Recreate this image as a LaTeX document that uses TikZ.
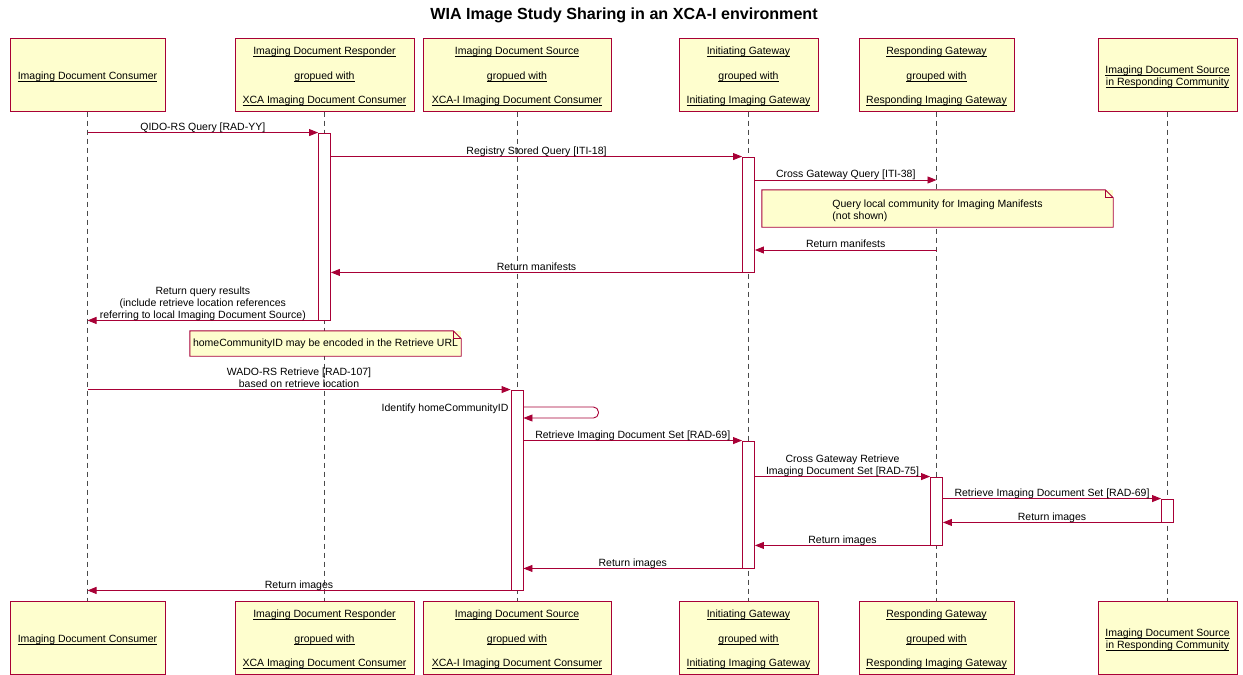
\documentclass[tikz,border=0pt]{standalone}
\usepackage{fontspec}
\setmainfont{Liberation Sans}
\usetikzlibrary{arrows.meta}
\definecolor{umlred}{HTML}{A80036}
\definecolor{umlfill}{HTML}{FEFECE}
\definecolor{lifegray}{HTML}{4A4A4A}
\newcommand{\txtfont}{\fontsize{10.5}{12}\selectfont}
% underline that sits close to the baseline
\newcommand{\ulx}[1]{\setbox0\hbox{#1}\rlap{\rule[-1.8pt]{\wd0}{0.6pt}}\box0}
\tikzset{
  part/.style={draw=umlred, fill=umlfill, line width=1pt, minimum height=73, align=center, font=\txtfont},
  life/.style={draw=lifegray, line width=0.8pt, dash pattern=on 5pt off 4pt},
  act/.style={draw=umlred, fill=white, line width=0.9pt, minimum width=12, inner sep=0pt},
  msg/.style={draw=umlred, line width=0.9pt, -{Triangle[length=9pt,width=7pt]}},
  lbl/.style={font=\txtfont, align=center, inner sep=0.5pt, text depth=1.5pt},
  notebox/.style={fill=umlfill, inner sep=0pt, font=\txtfont},
  noteline/.style={draw=umlred, line width=0.9pt}
}

\begin{document}
\begin{tikzpicture}[x=1pt, y=-1pt]
  \useasboundingbox (0,0) rectangle (1243,675);
  \node[font=\bfseries\fontsize{16.1}{19}\selectfont] (title) at (624,15) {WIA Image Study Sharing in an XCA-I environment};

  % participants, top and bottom, with their lifelines
  \foreach \n/\x/\w/\txt in {
      1/87.5/155/{\ulx{Imaging Document Consumer}},
      2/324.5/179/{\ulx{Imaging Document Responder}\\[12.5pt]\ulx{gropued with}\\[12.5pt]\ulx{XCA Imaging Document Consumer}},
      3/517/188/{\ulx{Imaging Document Source}\\[12.5pt]\ulx{gropued with}\\[12.5pt]\ulx{XCA-I Imaging Document Consumer}},
      4/748.5/139/{\ulx{Initiating Gateway}\\[12.5pt]\ulx{grouped with}\\[12.5pt]\ulx{Initiating Imaging Gateway}},
      5/936.5/155/{\ulx{Responding Gateway}\\[12.5pt]\ulx{grouped with}\\[12.5pt]\ulx{Responding Imaging Gateway}},
      6/1167.5/139/{\ulx{Imaging Document Source}\\\ulx{in Responding Community}}} {
    \node[part, minimum width=\w] (t\n) at (\x,74.5) {\rule{0pt}{12pt}\txt};
    \node[part, minimum width=\w] (b\n) at (\x,637.5) {\rule{0pt}{12pt}\txt};
    \draw[life] (t\n) -- (b\n);
  }

  % activations
  \node[act, minimum height=187] (a1) at (t2 |- 0,226.5) {};
  \node[act, minimum height=115] (a2) at (t4 |- 0,214.5) {};
  \node[act, minimum height=200] (a3) at (t3 |- 0,490) {};
  \node[act, minimum height=127] (a4) at (t4 |- 0,504.5) {};
  \node[act, minimum height=68] (a5) at (t5 |- 0,511) {};
  \node[act, minimum height=23] (a6) at (t6 |- 0,510.5) {};

  % query
  \draw[msg] (t1 |- a1.north) -- node[lbl, above] {QIDO-RS Query [RAD-YY]} (a1.north west);
  \draw[msg] (a1.east |- a2.north) -- node[lbl, above] {Registry Stored Query [ITI-18]} (a2.north west);
  \draw[msg] (a2.east |- 0,180) -- node[lbl, above] {Cross Gateway Query [ITI-38]} (t5 |- 0,180);

  \node[notebox, minimum width=351, minimum height=37] (note1) at (937.5,208.5) {};
  \node[font=\txtfont, align=left] (note1txt) at ([yshift=-2.5pt]note1.center)
    {Query local community for Imaging Manifests\\(not shown)};
  \draw[noteline] (note1.north west) -- ([xshift=-8pt]note1.north east) -- ([yshift=-8pt]note1.north east)
    -- (note1.south east) -- (note1.south west) -- cycle;
  \draw[noteline] ([xshift=-8pt]note1.north east) -- ++(0,8) -- ++(8,0);

  \draw[msg] (t5 |- 0,250) -- node[lbl, above] {Return manifests} (a2.east |- 0,250);
  \draw[msg] (a2.south west) -- node[lbl, above] {Return manifests} (a1.east |- a2.south);
  \draw[msg] (a1.south west) -- node[lbl, above] {Return query results\\(include retrieve location references\\referring to local Imaging Document Source)} (t1 |- a1.south);

  \node[notebox, minimum width=271, minimum height=25] (note2) at (325.5,343.5)
    {homeCommunityID may be encoded in the Retrieve URL};
  \draw[noteline] (note2.north west) -- ([xshift=-8pt]note2.north east) -- ([yshift=-8pt]note2.north east)
    -- (note2.south east) -- (note2.south west) -- cycle;
  \draw[noteline] ([xshift=-8pt]note2.north east) -- ++(0,8) -- ++(8,0);

  % retrieve
  \draw[msg] (t1 |- a3.north) -- node[lbl, above] {WADO-RS Retrieve [RAD-107]\\based on retrieve location} (a3.north west);
  \node[font=\txtfont, left, inner sep=2pt] (self) at (a3.west |- 0,408.5) {Identify homeCommunityID};
  \draw[msg, rounded corners=5pt] (a3.east |- 0,407) -- ++(75,0) -- ++(0,11) -- (a3.east |- 0,418);
  \draw[msg] (a3.east |- a4.north) -- node[lbl, above] {Retrieve Imaging Document Set [RAD-69]} (a4.north west);
  \draw[msg] (a4.east |- a5.north) -- node[lbl, above] {Cross Gateway Retrieve\\Imaging Document Set [RAD-75]} (a5.north west);
  \draw[msg] (a5.east |- a6.north) -- node[lbl, above] {Retrieve Imaging Document Set [RAD-69]} (a6.north west);
  \draw[msg] (a6.south west) -- node[lbl, above] {Return images} (a5.east |- a6.south);
  \draw[msg] (a5.south west) -- node[lbl, above] {Return images} (a4.east |- a5.south);
  \draw[msg] (a4.south west) -- node[lbl, above] {Return images} (a3.east |- a4.south);
  \draw[msg] (a3.south west) -- node[lbl, above] {Return images} (t1 |- a3.south);
\end{tikzpicture}
\end{document}
